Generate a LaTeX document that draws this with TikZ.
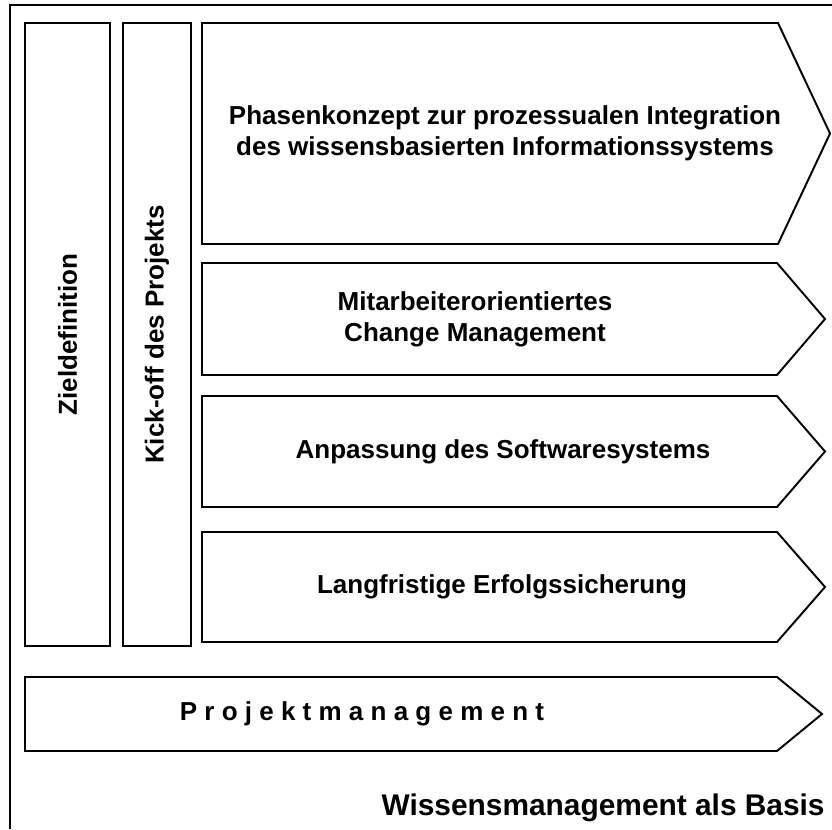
\documentclass[tikz,border=0pt]{standalone}
\usepackage{fontspec}
\setmainfont{Liberation Sans}
\usetikzlibrary{positioning}
\newcommand{\phasefont}{\bfseries\fontsize{14.8}{17.5}\selectfont}
\newcommand{\basisfont}{\bfseries\fontsize{17}{20}\selectfont}
\tikzset{
  pillar/.style={
    rectangle, draw=black, line width=1.1pt,
    inner sep=0pt, align=center,
    font=\phasefont
  },
  phase/.style={
    draw=black, line width=1.1pt, line join=miter
  },
  phaselabel/.style={font=\phasefont, align=center, inner sep=0pt},
  frame/.style={draw=black, line width=1pt}
}

\begin{document}
\begin{tikzpicture}
        \useasboundingbox (0,0) rectangle (16.64,16.58);
        % open frame around everything
        \draw[frame] (0.2,0) -- (0.2,16.48) -- (16.64,16.48);

        % vertical pillars
        \node[pillar, rotate=90, minimum width=12.46cm, minimum height=1.7cm] (ziel) at (1.35,9.89) {Zieldefinition};
        \node[pillar, rotate=90, minimum width=12.46cm, minimum height=1.36cm] (kick) at (3.14,9.89) {Kick-off des Projekts};

        % phases
        \draw[phase] (4.04,16.12) -- (15.56,16.12) -- (16.6,13.91) -- (15.56,11.7) -- (4.04,11.7) -- cycle;
        \node[phaselabel] (konzept) at (10.1,13.91) {Phasenkonzept zur prozessualen Integration\\des wissensbasierten Informationssystems};

        \draw[phase] (4.04,11.32) -- (15.54,11.32) -- (16.5,10.2) -- (15.54,9.08) -- (4.04,9.08) -- cycle;
        \node[phaselabel] (change) at (9.5,10.2) {Mitarbeiterorientiertes\\Change Management};

        \draw[phase] (4.04,8.66) -- (15.54,8.66) -- (16.5,7.55) -- (15.54,6.44) -- (4.04,6.44) -- cycle;
        \node[phaselabel] (software) at (10.06,7.55) {Anpassung des Softwaresystems};

        \draw[phase] (4.04,5.94) -- (15.54,5.94) -- (16.5,4.84) -- (15.54,3.74) -- (4.04,3.74) -- cycle;
        \node[phaselabel] (erfolg) at (10.04,4.84) {Langfristige Erfolgssicherung};

        % project management across the whole width
        \draw[phase] (0.5,3.04) -- (15.54,3.04) -- (16.44,2.3) -- (15.54,1.56) -- (0.5,1.56) -- cycle;
        \node[phaselabel] (pm) at (7.24,2.3) {P r o j e k t m a n a g e m e n t};

        \node[font=\basisfont, anchor=base east, inner sep=0pt] (basis) at (16.5,0.28) {Wissensmanagement als Basis};
      \end{tikzpicture}
\end{document}
